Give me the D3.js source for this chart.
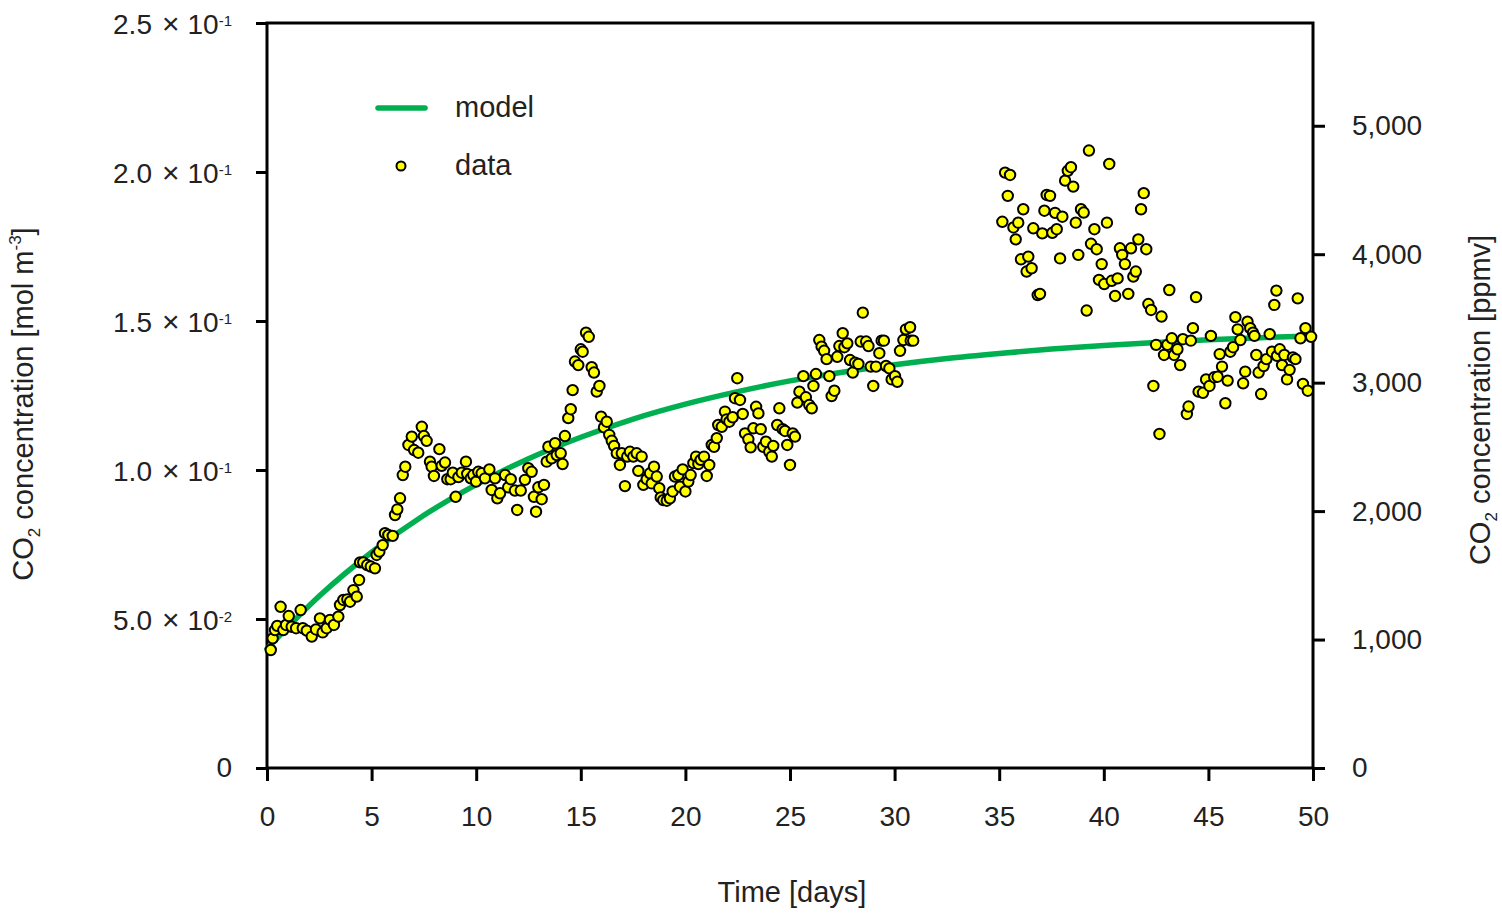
<!DOCTYPE html>
<html>
<head>
<meta charset="utf-8">
<script src="https://cdn.jsdelivr.net/npm/d3@7"></script>
<style>
  body { margin: 0; background: #fff; }
  text { font-family: "Liberation Sans", Arial, sans-serif; fill: #222; }
</style>
</head>
<body>
<svg id="chart" width="1502" height="913"></svg>
<script>
// measured CO2 concentration [mol m-3] against time [days]
let dataDays = [
    0.18, 0.27, 0.38, 0.49, 0.65, 0.78, 0.91, 1.04, 1.18, 1.39, 1.61, 1.71, 1.90, 2.14, 2.34, 2.53, 2.66, 2.85, 3.01, 3.20,
    3.41, 3.49, 3.65, 3.84, 3.97, 4.13, 4.29, 4.40, 4.45, 4.60, 4.79, 4.96, 5.16, 5.24, 5.37, 5.53, 5.64, 5.80, 6.01, 6.12,
    6.23, 6.36, 6.49, 6.61, 6.76, 6.92, 7.03, 7.23, 7.40, 7.50, 7.63, 7.79, 7.87, 7.98, 8.24, 8.35, 8.51, 8.62, 8.78, 8.88,
    9.02, 9.15, 9.31, 9.51, 9.57, 9.74, 9.86, 9.99, 10.10, 10.26, 10.42, 10.63, 10.74, 10.90, 11.01, 11.14, 11.38, 11.53, 11.65, 11.85,
    11.96, 12.13, 12.33, 12.49, 12.65, 12.76, 12.86, 12.97, 13.13, 13.24, 13.37, 13.45, 13.61, 13.77, 13.85,
    14.04, 14.13, 14.24, 14.40, 14.52, 14.61, 14.72, 14.88, 15.00, 15.09, 15.25, 15.38, 15.52, 15.63, 15.76, 15.89, 15.97, 16.11, 16.24, 16.36,
    16.48, 16.59, 16.72, 16.87, 16.96, 17.11, 17.22, 17.35, 17.51, 17.67, 17.75, 17.91, 17.99, 18.15, 18.31, 18.39, 18.50, 18.63, 18.75, 18.82,
    18.94, 19.11, 19.26, 19.39, 19.50, 19.66, 19.74, 19.87, 20.00, 20.14, 20.25, 20.38, 20.51, 20.62, 20.73, 20.89, 21.02, 21.14, 21.26, 21.37,
    21.50, 21.57, 21.74, 21.89, 21.97, 22.10, 22.26, 22.37, 22.48, 22.61, 22.74, 22.85, 23.01, 23.12, 23.25, 23.38, 23.49, 23.60, 23.72, 23.85,
    24.01, 24.13, 24.20, 24.39, 24.49, 24.65, 24.76, 24.87, 25.00, 25.13, 25.24, 25.35, 25.45,
    25.64, 25.76, 25.92, 26.04, 26.12, 26.24, 26.40, 26.51, 26.63, 26.75, 26.88, 26.99, 27.12, 27.26, 27.36, 27.52, 27.60, 27.74, 27.87, 28.00,
    28.11, 28.27, 28.38, 28.48, 28.64, 28.75, 28.86, 28.98, 29.11, 29.27, 29.38, 29.49, 29.59, 29.75, 29.86, 30.02, 30.13, 30.26, 30.42, 30.54,
    30.74, 30.77, 30.89,
    35.15, 35.28, 35.41, 35.52, 35.68, 35.79, 35.91, 36.04, 36.15, 36.31, 36.39, 36.55, 36.63, 36.84, 36.95, 37.06, 37.16, 37.27, 37.43, 37.54,
    37.67, 37.75, 37.91, 38.02, 38.15, 38.28, 38.43, 38.54, 38.66, 38.78, 38.91, 39.04, 39.18, 39.29, 39.39, 39.55, 39.66, 39.77, 39.90, 40.02,
    40.15, 40.26, 40.38, 40.54, 40.66, 40.77, 40.88, 41.01, 41.17, 41.30, 41.41, 41.53, 41.65, 41.78, 41.91, 42.03, 42.13, 42.26,
    42.37, 42.50, 42.66, 42.76, 42.88, 43.04, 43.13, 43.25, 43.36, 43.52, 43.65, 43.78, 43.97, 44.05, 44.16, 44.26, 44.41, 44.53, 44.74, 44.89,
    45.05, 45.12, 45.28, 45.44, 45.54, 45.65, 45.81, 45.92, 46.05, 46.18, 46.29, 46.40, 46.53, 46.66, 46.76, 46.87, 47.00, 47.13, 47.20, 47.29,
    47.40, 47.52, 47.64, 47.77, 47.93, 48.04, 48.15, 48.25, 48.28, 48.41, 48.52, 48.63, 48.76, 48.88, 49.04, 49.16, 49.27, 49.40, 49.52, 49.64,
    49.75, 49.91
];
let dataConc = [
    0.0396, 0.0435, 0.0463, 0.0477, 0.0541, 0.0463, 0.0480, 0.0510, 0.0474, 0.0469, 0.0530, 0.0469, 0.0461, 0.0441, 0.0465, 0.0502, 0.0455, 0.0469, 0.0497, 0.0480,
    0.0508, 0.0547, 0.0564, 0.0566, 0.0558, 0.0597, 0.0575, 0.0631, 0.0690, 0.0690, 0.0681, 0.0676, 0.0670, 0.0715, 0.0726, 0.0748, 0.0788, 0.0782, 0.0779, 0.0849,
    0.0868, 0.0905, 0.0983, 0.1011, 0.1084, 0.1112, 0.1067, 0.1058, 0.1145, 0.1114, 0.1098, 0.1028, 0.1011, 0.0980, 0.1070, 0.1014, 0.1025, 0.0969, 0.0969, 0.0991,
    0.0910, 0.0976, 0.0991, 0.1028, 0.0987, 0.0972, 0.0983, 0.0961, 0.0994, 0.0989, 0.0972, 0.1002, 0.0933, 0.0972, 0.0905, 0.0922, 0.0983, 0.0942, 0.0969, 0.0931,
    0.0866, 0.0931, 0.0967, 0.1006, 0.0994, 0.0910, 0.0860, 0.0942, 0.0902, 0.0950, 0.1028, 0.1078, 0.1039, 0.1090, 0.1050,
    0.1056, 0.1020, 0.1114, 0.1174, 0.1204, 0.1268, 0.1364, 0.1352, 0.1405, 0.1397, 0.1461, 0.1447, 0.1345, 0.1327, 0.1263, 0.1282, 0.1179, 0.1143, 0.1162, 0.1118,
    0.1098, 0.1081, 0.1056, 0.1017, 0.1056, 0.0946, 0.1045, 0.1061, 0.1045, 0.1056, 0.0997, 0.1045, 0.0950, 0.0969, 0.0989, 0.0955, 0.1011, 0.0978, 0.0939, 0.0908,
    0.0899, 0.0897, 0.0905, 0.0928, 0.0978, 0.0983, 0.0944, 0.1002, 0.0928, 0.0961, 0.0983, 0.1023, 0.1045, 0.1020, 0.1034, 0.1045, 0.0980, 0.1017, 0.1084, 0.1078,
    0.1107, 0.1151, 0.1145, 0.1196, 0.1170, 0.1162, 0.1177, 0.1241, 0.1308, 0.1235, 0.1188, 0.1123, 0.1103, 0.1076, 0.1140, 0.1212, 0.1190, 0.1137, 0.1078, 0.1095,
    0.1061, 0.1045, 0.1081, 0.1151, 0.1207, 0.1137, 0.1131, 0.1084, 0.1017, 0.1123, 0.1112, 0.1226, 0.1263,
    0.1315, 0.1244, 0.1218, 0.1207, 0.1282, 0.1322, 0.1436, 0.1414, 0.1400, 0.1372, 0.1315, 0.1248, 0.1266, 0.1380, 0.1416, 0.1459, 0.1412, 0.1425, 0.1369, 0.1327,
    0.1360, 0.1356, 0.1431, 0.1528, 0.1431, 0.1416, 0.1347, 0.1282, 0.1347, 0.1392, 0.1434, 0.1434, 0.1349, 0.1341, 0.1304, 0.1315, 0.1296, 0.1400, 0.1436, 0.1472,
    0.1479, 0.1434, 0.1434,
    0.1833, 0.1998, 0.1920, 0.1990, 0.1814, 0.1774, 0.1830, 0.1707, 0.1875, 0.1666, 0.1716, 0.1677, 0.1811, 0.1587, 0.1591, 0.1794, 0.1870, 0.1923, 0.1920, 0.1796,
    0.1863, 0.1808, 0.1710, 0.1850, 0.1971, 0.2004, 0.2016, 0.1951, 0.1830, 0.1722, 0.1875, 0.1864, 0.1535, 0.2072, 0.1759, 0.1808, 0.1741, 0.1638, 0.1691, 0.1624,
    0.1830, 0.2027, 0.1635, 0.1584, 0.1643, 0.1744, 0.1722, 0.1691, 0.1591, 0.1744, 0.1649, 0.1666, 0.1774, 0.1875, 0.1929, 0.1741, 0.1557, 0.1537,
    0.1282, 0.1420, 0.1121, 0.1515, 0.1386, 0.1420, 0.1604, 0.1442, 0.1386, 0.1405, 0.1352, 0.1439, 0.1188, 0.1213, 0.1434, 0.1476, 0.1580, 0.1263, 0.1259, 0.1304,
    0.1282, 0.1450, 0.1311, 0.1313, 0.1389, 0.1347, 0.1224, 0.1300, 0.1397, 0.1412, 0.1513, 0.1472, 0.1436, 0.1291, 0.1330, 0.1498, 0.1476, 0.1461, 0.1450, 0.1386,
    0.1327, 0.1255, 0.1349, 0.1372, 0.1456, 0.1397, 0.1554, 0.1602, 0.1383, 0.1405, 0.1352, 0.1386, 0.1304, 0.1336, 0.1378, 0.1372, 0.1576, 0.1442, 0.1289, 0.1476,
    0.1266, 0.1447
];

// model curve
let modelDays = [0, 2.5, 5, 7.5, 10, 12.5, 15, 17.5, 20, 22.5, 25, 27.5, 30, 32.5, 35, 37.5, 40, 42.5, 45, 47.5, 50];
let modelConc = [0.0400, 0.0577, 0.0724, 0.0848, 0.0951, 0.1038, 0.1110, 0.1171, 0.1221, 0.1263, 0.1299,
                 0.1328, 0.1353, 0.1374, 0.1391, 0.1406, 0.1418, 0.1428, 0.1437, 0.1444, 0.1450];

// axis ticks
let xTicks = [0, 5, 10, 15, 20, 25, 30, 35, 40, 45, 50];
let leftTicks = [0, 0.05, 0.10, 0.15, 0.20, 0.25];
let leftMantissa = ["0", "5.0", "1.0", "1.5", "2.0", "2.5"];
let leftExponent = [null, "-2", "-1", "-1", "-1", "-1"];
let ppmTicks = [0, 1000, 2000, 3000, 4000, 5000];

const svg = d3.select("#chart");

let x = d3.scaleLinear().domain([0, 50]).range([267, 1313]);
let y = d3.scaleLinear().domain([0, 0.25]).range([768, 23]);
let yPpm = d3.scaleLinear().domain([0, 5800]).range([768, 23]);

function styleAxis(g) {
    g.select(".domain").remove();
    g.selectAll(".tick line").attr("stroke", "#000").attr("stroke-width", 3);
    g.selectAll(".tick text").attr("font-size", 28).attr("fill", "#222")
        .style("font-family", "'Liberation Sans', Arial, sans-serif");
}

// left axis with "m × 10^e" labels
let gLeft = svg.append("g")
    .attr("transform", "translate(267,0)")
    .call(d3.axisLeft(y).tickValues(leftTicks).tickSize(11).tickPadding(24).tickFormat(""));
styleAxis(gLeft);
gLeft.selectAll(".tick text").each(function(d, i) {
    let t = d3.select(this);
    t.append("tspan").text(leftMantissa[i]);
    if (leftExponent[i]) {
        t.attr("dy", "0.36em");
        t.append("tspan").attr("font-size", 30).attr("dx", 10).text("×");
        t.append("tspan").attr("dx", 8).text("10");
        t.append("tspan").attr("font-size", 15).attr("dy", -8).text(leftExponent[i]);
    }
});

// bottom axis
let gBottom = svg.append("g")
    .attr("transform", "translate(0,768)")
    .call(d3.axisBottom(x).tickValues(xTicks).tickSize(13).tickPadding(25).tickFormat(d3.format("d")));
styleAxis(gBottom);

// right axis in ppmv
let gRight = svg.append("g")
    .attr("transform", "translate(1313,0)")
    .call(d3.axisRight(yPpm).tickValues(ppmTicks).tickSize(12).tickPadding(27).tickFormat(d3.format(",")));
styleAxis(gRight);

// frame
svg.append("rect")
    .attr("x", x(0)).attr("y", y(0.25))
    .attr("width", x(50) - x(0)).attr("height", y(0) - y(0.25))
    .attr("fill", "none").attr("stroke", "#000").attr("stroke-width", 3);

// model
let modelPoints = modelDays.map((d, i) => [d, modelConc[i]]);
svg.append("path")
    .datum(modelPoints)
    .attr("fill", "none")
    .attr("stroke", "#00b050")
    .attr("stroke-width", 5.5)
    .attr("stroke-linecap", "round")
    .attr("d", d3.line().x(d => x(d[0])).y(d => y(d[1])).curve(d3.curveMonotoneX));

// data points
let points = dataDays.map((d, i) => [d, dataConc[i]]);
svg.append("g").selectAll("circle")
    .data(points)
    .enter().append("circle")
    .attr("cx", d => x(d[0]))
    .attr("cy", d => y(d[1]))
    .attr("r", 5.2)
    .attr("fill", "#ffff00")
    .attr("stroke", "#000")
    .attr("stroke-width", 2);

// legend
svg.append("line")
    .attr("x1", 378).attr("x2", 425).attr("y1", 108).attr("y2", 108)
    .attr("stroke", "#00b050").attr("stroke-width", 5.5).attr("stroke-linecap", "round");
svg.append("text").attr("x", 455).attr("y", 117).attr("font-size", 29).text("model");
svg.append("circle")
    .attr("cx", 401).attr("cy", 166).attr("r", 4.5)
    .attr("fill", "#ffff00").attr("stroke", "#000").attr("stroke-width", 2);
svg.append("text").attr("x", 455).attr("y", 175).attr("font-size", 29).text("data");

// axis titles
let leftTitle = svg.append("text")
    .attr("transform", "translate(33,404) rotate(-90)")
    .attr("text-anchor", "middle").attr("font-size", 29);
leftTitle.append("tspan").text("CO");
leftTitle.append("tspan").attr("font-size", 17).attr("dy", 7).text("2");
leftTitle.append("tspan").attr("dy", -7).text(" concentration [mol m");
leftTitle.append("tspan").attr("font-size", 17).attr("dy", -12).text("-3");
leftTitle.append("tspan").attr("dy", 12).text("]");

let rightTitle = svg.append("text")
    .attr("transform", "translate(1490,400) rotate(-90)")
    .attr("text-anchor", "middle").attr("font-size", 29);
rightTitle.append("tspan").text("CO");
rightTitle.append("tspan").attr("font-size", 17).attr("dy", 7).text("2");
rightTitle.append("tspan").attr("dy", -7).text(" concentration [ppmv]");

svg.append("text")
    .attr("x", 792).attr("y", 902)
    .attr("text-anchor", "middle").attr("font-size", 29)
    .text("Time [days]");
</script>
</body>
</html>
